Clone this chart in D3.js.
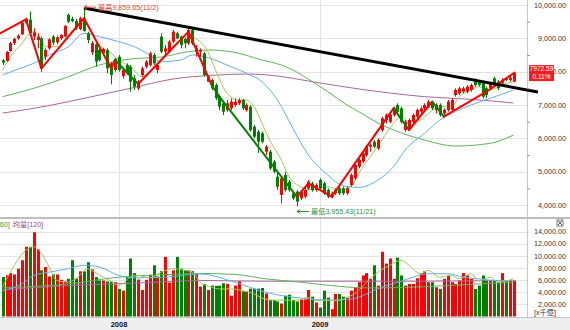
<!DOCTYPE html>
<html>
<head>
<meta charset="utf-8">
<script src="https://cdn.jsdelivr.net/npm/d3@7/dist/d3.min.js"></script>
<style>
html, body { margin: 0; padding: 0; background: #fff; }
svg { display: block; font-family: "Liberation Sans", Arial, "Noto Sans CJK TC", sans-serif; }
</style>
</head>
<body>
<svg id="chart" width="570" height="330"></svg>
<script>
// Weekly bars; week 0 ends 2007-06-08, week 132 ends 2009-12-18
const opens = [8340,8320,8620,8860,9000,9120,9460,9560,9050,8950,9000,8450,8700,9050,8880,9000,9060,9700,9580,9520,9280,9600,9150,8580,8820,8650,8550,8650,8250,8050,8450,7870,8200,8150,7800,7500,7900,8150,8200,8500,8050,9050,8600,8600,8900,9150,9050,8980,8850,9250,8600,8600,8550,7700,7750,7600,7250,7050,6850,6900,7000,7050,7150,6850,6950,6350,6200,6150,5600,5600,5300,4850,4300,4900,4700,4350,4400,4200,4250,4500,4650,4450,4750,4650,4450,4250,4350,4500,4500,4350,4600,4800,5150,5300,5500,5750,5900,5700,6250,6550,6500,6700,7000,6900,6250,6300,6500,6650,6800,6900,6950,7050,6850,7000,6750,6850,6850,7300,7350,7400,7400,7450,7750,7700,7650,7500,7500,7800,7700,7650,7780,7750,7700];
const highs = [8380,8620,8890,9020,9120,9500,9620,9810,9300,9150,9050,8700,9000,9100,9080,9130,9400,9750,9650,9580,9650,9859.65,9200,8920,8850,8700,8720,8700,8280,8420,8500,8100,8250,8200,7900,7750,8150,8350,8600,8560,8250,9150,8800,8950,9250,9200,9080,9020,9280,9309,8800,8700,8600,7900,7800,7650,7300,7100,7150,7200,7200,7200,7180,7050,7000,6400,6250,6200,5800,5650,5350,5000,4850,5000,4750,4400,4450,4450,4550,4750,4700,4650,4800,4700,4500,4400,4500,4550,4550,4550,4950,5250,5400,5600,5800,5850,5950,6000,6650,6750,6800,6950,7050,6950,6550,6600,6750,6900,6950,7050,7150,7100,7050,7050,6900,7150,7200,7500,7550,7550,7600,7650,7800,7750,7700,7550,7700,7850,7750,7800,7800,7870,8000];
const lows = [8200,8300,8600,8800,8960,9100,9420,9120,8950,8700,7990,8350,8650,8800,8820,8950,9030,9450,9480,9250,9250,9200,8850,8500,8150,8300,8500,7950,7620,8000,8000,7800,7900,7400,7450,7450,7850,8100,8150,8200,7950,8550,8500,8550,8850,8980,8700,8700,8800,8800,8450,8450,7850,7700,7450,7150,6850,6700,6800,6850,6950,7000,6850,6800,6200,6000,5560,5850,5500,5050,4950,4450,4050,4400,4400,4150,3955.43,4150,4200,4450,4400,4400,4450,4300,4200,4200,4300,4300,4300,4300,4550,4750,5100,5250,5450,5600,5700,5650,6200,6450,6450,6650,6750,6450,6200,6250,6450,6600,6750,6850,6900,6850,6750,6650,6700,6800,6800,7250,7300,7350,7350,7400,7550,7550,7200,7200,7450,7600,7450,7600,7720,7700,7680];
const closes = [8270,8590,8860,8980,9080,9470,9580,9160,9180,9050,8100,8650,8970,8870,9030,9100,9370,9500,9520,9300,9600,9220,8950,8860,8300,8350,8680,8100,7900,8380,8050,8050,7950,7700,7550,7700,8100,8300,8550,8250,8200,8600,8700,8900,9200,9000,8800,8850,9250,8850,8700,8650,7900,7850,7500,7200,6950,6800,7050,7100,7100,7150,6900,7000,6250,6050,5900,5900,5750,5100,5000,4550,4800,4450,4450,4200,4100,4400,4450,4700,4450,4600,4500,4350,4250,4350,4450,4350,4350,4500,4900,5200,5350,5550,5750,5800,5750,5950,6600,6700,6700,6900,6800,6500,6500,6550,6700,6850,6900,7000,7100,6900,7000,6700,6850,7100,7150,7450,7500,7500,7550,7600,7600,7600,7250,7300,7650,7650,7500,7750,7760,7820,7972.59];
const volumes = [6500,6760,7150,6930,7880,9270,11490,11490,13890,11050,7600,8150,6590,6930,6930,6040,5760,6200,9270,6260,7430,7430,8930,7760,6480,5930,5930,5760,5760,5650,4540,4260,6590,9550,7150,6090,4370,6040,6870,8430,6590,7480,9820,5590,7600,9820,7880,7600,7600,7480,7000,4920,5370,4370,5090,5040,5090,5480,5370,3420,5090,5810,4150,4150,4590,4590,4590,4700,3800,2700,2700,2480,2140,3420,3590,2700,2480,2810,2810,4370,3260,2310,1470,4260,3100,1200,3700,3700,3260,3100,4260,4810,5650,6760,7150,6200,8430,5090,10650,8710,9550,6200,9700,6760,5090,5370,5370,6300,7150,7430,5650,5650,4810,4540,6200,6760,5650,5370,5930,7150,6760,6200,4540,5090,6760,5930,5930,5930,5650,7150,5930,5930,5930];

const lastChangePct = 0.11;
const highDate = "11/2";
const lowDate = "11/21";

// Year boundaries (first week of each year)
const yearLabels = ["2008", "2009"];
const yearWeeks = [30, 82];

// Axis ticks
const priceTicks = [4000, 5000, 6000, 7000, 8000, 9000, 10000];
const priceMinorTicks = [4500, 5500, 6500, 7500, 8500, 9500];
const volumeTicks = [2000, 4000, 6000, 8000, 10000, 12000, 14000];

// Price moving averages [week, value]
const priceMA5 = [[0,8050],[2,8450],[5,8850],[7,9150],[8,9200],[10,8950],[11,8750],[14,8750],[17,9100],[20,9450],[22,9400],[23,9150],[25,8800],[28,8550],[30,8350],[33,8150],[36,7850],[38,8000],[41,8300],[43,8650],[46,8950],[48,9050],[51,8900],[53,8600],[55,8050],[58,7350],[61,7150],[63,7150],[65,6950],[67,6450],[69,5950],[72,5350],[74,4850],[77,4550],[80,4450],[84,4550],[87,4450],[90,4550],[92,4950],[95,5450],[98,5950],[101,6450],[103,6650],[105,6500],[108,6550],[110,6750],[113,6950],[116,6950],[118,7250],[121,7450],[123,7550],[126,7450],[129,7600],[132,7700]];
const priceMA20 = [[0,7900],[4,8080],[8,8250],[12,8500],[17,8750],[21,9150],[25,9050],[30,8900],[34,8750],[38,8500],[41,8300],[46,8350],[49,8500],[52,8450],[59,8150],[63,7950],[67,7700],[71,7150],[75,6300],[79,5500],[84,4900],[88,4580],[92,4530],[97,4750],[101,5150],[104,5650],[109,6150],[113,6550],[117,6800],[121,7000],[126,7200],[132,7450]];
const priceMA60 = [[0,7250],[8,7500],[17,7850],[25,8200],[33,8380],[41,8440],[48,8600],[53,8650],[59,8600],[67,8350],[72,8200],[75,8050],[80,7700],[84,7400],[89,7000],[92,6800],[98,6400],[101,6250],[109,5950],[117,5770],[126,5850],[132,6100]];
const priceMA120 = [[0,6760],[8,6900],[17,7100],[25,7300],[33,7500],[44,7780],[54,7890],[63,7930],[71,7870],[79,7720],[88,7550],[100,7360],[109,7250],[121,7170],[132,7060]];

// Volume moving averages [week, value]
const volMA5 = [[0,4920],[8,11480],[10,10400],[12,8150],[14,5930],[17,5650],[19,6260],[22,7880],[23,7600],[26,6480],[28,5760],[30,5090],[33,6480],[35,6760],[38,6370],[41,7310],[44,7880],[47,7600],[49,7310],[51,5650],[54,4810],[56,4540],[59,4540],[62,4260],[65,3700],[67,3040],[70,2700],[73,2700],[76,2700],[79,3140],[81,2590],[84,2700],[86,2590],[89,3140],[92,4260],[94,5650],[97,7310],[100,8430],[103,9270],[105,8430],[108,7050],[110,7600],[113,6480],[116,6760],[118,6200],[121,7050],[123,5930],[126,6480],[128,5650],[132,6200]];
const volMA20 = [[0,4260],[5,5370],[8,6760],[12,7310],[17,7880],[21,8430],[25,8150],[30,6760],[34,6370],[42,6480],[51,7000],[60,5650],[68,3970],[77,3040],[85,2700],[90,2870],[94,3700],[97,4600],[103,5810],[106,6480],[110,7050],[115,7050],[119,6480],[123,6200],[128,5930],[132,5930]];
const volMA60 = [[0,4700],[17,5370],[30,6480],[42,6900],[51,7100],[60,6930],[68,6200],[77,5650],[85,5090],[94,4710],[103,4780],[115,5090],[123,5370],[132,5650]];
const volMA120 = [[0,4370],[17,5090],[34,5480],[51,5930],[68,5810],[85,5810],[103,5810],[132,5930]];

// Swing (wave) lines: turning points and the phase of each leg
const swingPoints = [[-1,9130],[6,9570],[10,8100],[21,9600],[28,8100],[29,8350],[35,7630],[48,9200],[54,7600],[56,7250],[76,4250],[79,4650],[85,4250],[101,6900],[105,6250],[111,7100],[114,6650],[125,7400],[132,7950]];
const swingPhase = ["bull","bull","bull","bull","bull","bear","bull","bull","bear","bear","bull","bull","bull","bear","bull","bear","bull","bull"];

// Long-term resistance line from the 2007 top
const trendLine = [[21, 9910], [138.3, 7390]];

const RED = "#ff0000", GREEN = "#008000";
const plotRight = 527;

const svg = d3.select("#chart");
const x = d3.scaleLinear().domain([0, 132]).range([2.7, 513.5]);
const yP = d3.scaleLinear().domain([4000, 10000]).range([205, 5]);
const yV = d3.scaleLinear().domain([0, 14000]).range([316.5, 231.5]);
const px = i => Math.round(x(i));

const defs = svg.append("defs");
defs.append("clipPath").attr("id", "clipMain").append("rect")
  .attr("x", 0).attr("y", 0).attr("width", plotRight).attr("height", 217);
defs.append("clipPath").attr("id", "clipVol").append("rect")
  .attr("x", 0).attr("y", 219).attr("width", plotRight).attr("height", 98);

// Grid
const grid = svg.append("g");
grid.selectAll(".hp").data(priceTicks).join("line")
  .attr("x1", 0).attr("x2", plotRight)
  .attr("y1", d => Math.round(yP(d)) + 0.5).attr("y2", d => Math.round(yP(d)) + 0.5)
  .attr("stroke", "#e4e4e4");
grid.selectAll(".hv").data(volumeTicks).join("line")
  .attr("x1", 0).attr("x2", plotRight)
  .attr("y1", d => Math.round(yV(d)) + 0.5).attr("y2", d => Math.round(yV(d)) + 0.5)
  .attr("stroke", "#e4e4e4");
grid.selectAll(".vy").data(yearWeeks).join("line")
  .attr("x1", d => px(d) + 0.5).attr("x2", d => px(d) + 0.5)
  .attr("y1", 0).attr("y2", 317)
  .attr("stroke", "#e4e4e4");

// Frame lines
svg.append("line").attr("x1", plotRight + 0.5).attr("x2", plotRight + 0.5)
  .attr("y1", 0).attr("y2", 317).attr("stroke", "#c8c8c8");
svg.append("line").attr("x1", 0).attr("x2", 570).attr("y1", 218).attr("y2", 218)
  .attr("stroke", "#bdbdbd").attr("stroke-width", 2);

// Price panel
const main = svg.append("g").attr("clip-path", "url(#clipMain)");
const line = d3.line().x(d => x(d[0])).curve(d3.curveMonotoneX);

const maStyles = [
  [priceMA120, "#a8689a"], [priceMA60, "#5cb35c"], [priceMA20, "#62aee8"], [priceMA5, "#9bcc55"]
];
maStyles.forEach(([data, color]) => {
  main.append("path").datum(data)
    .attr("d", line.y(d => yP(d[1])))
    .attr("fill", "none").attr("stroke", color).attr("stroke-width", 1);
});

const weeks = d3.range(closes.length);
const isUp = i => closes[i] >= opens[i];
const candles = main.append("g").selectAll("g").data(weeks).join("g");
candles.append("line")
  .attr("x1", i => px(i) + 0.5).attr("x2", i => px(i) + 0.5)
  .attr("y1", i => yP(highs[i])).attr("y2", i => yP(lows[i]))
  .attr("stroke", i => isUp(i) ? RED : GREEN).attr("stroke-width", 1);
candles.append("rect")
  .attr("x", i => px(i) - 1).attr("width", 3)
  .attr("y", i => yP(Math.max(opens[i], closes[i])))
  .attr("height", i => Math.max(1, Math.abs(yP(opens[i]) - yP(closes[i]))))
  .attr("fill", i => isUp(i) ? RED : GREEN);

// Swing legs
main.append("g").selectAll("line").data(swingPhase).join("line")
  .attr("x1", (d, k) => x(swingPoints[k][0])).attr("y1", (d, k) => yP(swingPoints[k][1]))
  .attr("x2", (d, k) => x(swingPoints[k + 1][0])).attr("y2", (d, k) => yP(swingPoints[k + 1][1]))
  .attr("stroke", d => d === "bull" ? RED : GREEN)
  .attr("stroke-width", 2).attr("stroke-linecap", "round");

// Resistance line
svg.append("line")
  .attr("x1", x(trendLine[0][0])).attr("y1", yP(trendLine[0][1]))
  .attr("x2", x(trendLine[1][0])).attr("y2", yP(trendLine[1][1]))
  .attr("stroke", "#000").attr("stroke-width", 3);

// High / low notes
const fmt2 = d3.format(",.2f");
const iHigh = d3.maxIndex(highs), iLow = d3.minIndex(lows);
function note(i, yv, dy, text, color) {
  const g = svg.append("g");
  const x0 = px(i), yy = yP(yv) + dy;
  g.append("line").attr("x1", x0).attr("x2", x0 + 12).attr("y1", yy).attr("y2", yy)
    .attr("stroke", color).attr("stroke-width", 1);
  g.append("path").attr("d", `M${x0},${yy} l3,-2 M${x0},${yy} l3,2`)
    .attr("stroke", color).attr("fill", "none").attr("stroke-width", 1);
  g.append("text").attr("x", x0 + 14).attr("y", yy + 2.5)
    .attr("font-size", 7.2).attr("fill", color).text(text);
}
note(iHigh, highs[iHigh], -2.5, "最高" + fmt2(highs[iHigh]) + "(" + highDate + ")", "#e8443a");
note(iLow, lows[iLow], 5, "最低" + fmt2(lows[iLow]) + "(" + lowDate + ")", "#2f922f");

// Volume panel
const vol = svg.append("g").attr("clip-path", "url(#clipVol)");
vol.selectAll("rect").data(weeks).join("rect")
  .attr("x", i => px(i) - 1).attr("width", 3)
  .attr("y", i => yV(volumes[i]))
  .attr("height", i => yV(0) - yV(volumes[i]))
  .attr("fill", i => isUp(i) ? RED : GREEN);
[[volMA120, "#a8689a"], [volMA60, "#5cb35c"], [volMA20, "#62aee8"], [volMA5, "#9bcc55"]].forEach(([data, color]) => {
  vol.append("path").datum(data)
    .attr("d", line.y(d => yV(d[1])))
    .attr("fill", "none").attr("stroke", color).attr("stroke-width", 1);
});

// Volume legend (scrolled: only the tail of the 60-week entry shows)
const leg = svg.append("text").attr("y", 226.5).attr("font-size", 7.2);
leg.append("tspan").attr("x", -16.6).attr("fill", "#3c9a3c").text("均量[60]");
leg.append("tspan").attr("dx", 3).attr("fill", "#9a4f88").text("均量[120]");

// Right axes
const axisP = svg.append("g").attr("transform", `translate(${plotRight},0)`)
  .call(d3.axisRight(yP).tickValues(priceTicks).tickFormat(fmt2).tickSize(0));
const axisPm = svg.append("g").attr("transform", `translate(${plotRight},0)`)
  .call(d3.axisRight(yP).tickValues(priceMinorTicks).tickFormat("").tickSize(3));
const axisV = svg.append("g").attr("transform", `translate(${plotRight},0)`)
  .call(d3.axisRight(yV).tickValues(volumeTicks).tickFormat(fmt2).tickSize(0));
[axisP, axisPm, axisV].forEach(a => {
  a.select(".domain").remove();
  a.selectAll("line").attr("stroke", "#999");
  a.selectAll("text").attr("x", 39).attr("text-anchor", "end")
    .attr("font-size", 7.2).attr("font-family", "Liberation Sans, Arial, sans-serif").attr("fill", "#333");
});
svg.append("text").attr("x", 534).attr("y", 315).attr("font-size", 7.2)
  .attr("fill", "#333").text("[x千億]");

// Close button
const cb = svg.append("g").attr("transform", "translate(557,220)");
cb.append("rect").attr("width", 6).attr("height", 6).attr("fill", "#fff").attr("stroke", "#777");
cb.append("path").attr("d", "M1,1L5,5M5,1L1,5").attr("stroke", "#555");

// Last price badge
const last = closes.length - 1;
const by = yP(closes[last]);
svg.append("rect").attr("x", 529).attr("y", by - 7.5).attr("width", 25).attr("height", 16)
  .attr("fill", "#f21d1d");
svg.append("text").attr("x", 541.5).attr("y", by - 1.5).attr("text-anchor", "middle")
  .attr("font-size", 6.6).attr("fill", "#fff").text(d3.format(".2f")(closes[last]));
svg.append("text").attr("x", 541.5).attr("y", by + 6).attr("text-anchor", "middle")
  .attr("font-size", 6.6).attr("fill", "#fff").text(d3.format(".2f")(lastChangePct) + "%");

// Time strip
svg.append("rect").attr("x", 0).attr("y", 317.5).attr("width", 570).attr("height", 12.5).attr("fill", "#eeeeee");
svg.append("line").attr("x1", 0).attr("x2", 570).attr("y1", 317.5).attr("y2", 317.5).attr("stroke", "#c4c4c4");
svg.append("g").selectAll("text").data(yearWeeks).join("text")
  .attr("x", d => px(d)).attr("y", 326.5).attr("text-anchor", "middle")
  .attr("font-size", 7.5).attr("font-weight", "bold").attr("fill", "#111")
  .text((d, k) => yearLabels[k]);
</script>
</body>
</html>
